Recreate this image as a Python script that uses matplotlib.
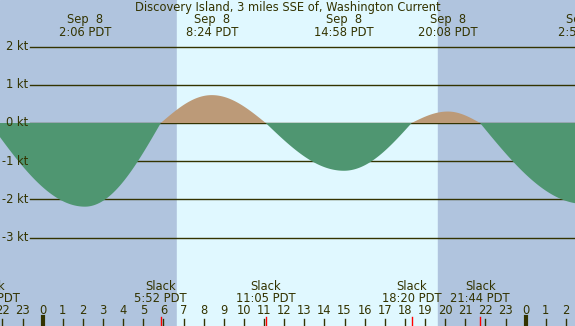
import matplotlib
matplotlib.use('Agg')
import matplotlib.pyplot as plt
import numpy as np

# current events (hours from midnight Sep 8, PDT), speed in knots
event_hours = [-2.633, 2.1, 5.867, 8.4, 11.083, 14.967, 18.333, 20.133, 21.733, 26.917]
event_speeds = [0.0, -2.19, 0.0, 0.73, 0.0, -1.25, 0.0, 0.30, 0.0, -2.12]
max_labels = ['2:06 PDT', '8:24 PDT', '14:58 PDT', '20:08 PDT', '2:55 PDT']
slack_labels = ['21:22 PDT', '5:52 PDT', '11:05 PDT', '18:20 PDT', '21:44 PDT']
sunrise = 6.66
sunset = 19.64
kt_levels = [2, 1, 0, -1, -2, -3]
hour_ticks = list(range(-2, 27))

W, H = 575, 326
TXT = '#333300'
FS = 8.3
x0_px, px_per_hr = 42.7, 20.125
y0_px, px_per_kt = 123.0, 38.2

def curve(t):
    out = np.zeros_like(t)
    for i in range(len(event_hours) - 1):
        a, b = event_hours[i], event_hours[i + 1]
        va, vb = event_speeds[i], event_speeds[i + 1]
        m = (t >= a) & (t <= b)
        f = (t[m] - a) / (b - a)
        if va == 0:
            out[m] = vb * np.sin(np.pi / 2 * f)
        else:
            out[m] = va * np.cos(np.pi / 2 * f)
    return out

fig = plt.figure(figsize=(W / 100, H / 100), dpi=100)
ax = fig.add_axes([0, 0, 1, 1])
xmin = -x0_px / px_per_hr
xmax = (W - x0_px) / px_per_hr
ax.set_xlim(xmin, xmax)
ax.set_ylim((y0_px - H) / px_per_kt, y0_px / px_per_kt)
ax.axis('off')

def fy(ypx):
    return 1 - ypx / H

tr = ax.get_xaxis_transform()

ax.axvspan(xmin, sunrise, color='#b0c4de', zorder=0)
ax.axvspan(sunrise, sunset, color='#e0f8ff', zorder=0)
ax.axvspan(sunset, xmax, color='#b0c4de', zorder=0)

gx = (30 - x0_px) / px_per_hr
for k in kt_levels:
    ax.plot([gx, xmax], [k, k], color=TXT, lw=1.0, zorder=1)
    ax.text(gx - 0.08, k, '%d kt' % k, ha='right', va='center', fontsize=FS, color=TXT)

t = np.linspace(xmin, xmax, 2000)
v = curve(t)
ax.fill_between(t, 0, v, where=v <= 0, color='#4f9671', lw=0, zorder=2, interpolate=True)
ax.fill_between(t, 0, v, where=v >= 0, color='#bc9a78', lw=0, zorder=2, interpolate=True)

ax.text((xmin + xmax) / 2, fy(7), 'Discovery Island, 3 miles SSE of, Washington Current',
        transform=tr, ha='center', va='center', fontsize=FS, color=TXT)

max_hours = [h for h, s in zip(event_hours, event_speeds) if s != 0]
slack_hours = [h for h, s in zip(event_hours, event_speeds) if s == 0]
for h, lab in zip(max_hours, max_labels):
    ax.text(h, fy(19), 'Sep  8', transform=tr, ha='center', va='center', fontsize=FS, color=TXT)
    ax.text(h, fy(32), lab, transform=tr, ha='center', va='center', fontsize=FS, color=TXT)
for h, lab in zip(slack_hours, slack_labels):
    ax.text(h, fy(287), 'Slack', transform=tr, ha='center', va='center', fontsize=FS, color=TXT)
    ax.text(h, fy(299), lab, transform=tr, ha='center', va='center', fontsize=FS, color=TXT)
    ax.plot([h, h], [fy(317), fy(326)], transform=tr, color='red', lw=1.0, zorder=3)

for h in hour_ticks:
    ax.text(h, fy(311), str(h % 24), transform=tr, ha='center', va='center', fontsize=FS, color=TXT)
    if h % 24 == 0:
        ax.plot([h, h], [fy(317), fy(326)], transform=tr, color=TXT, lw=3.0, zorder=3)
    else:
        ax.plot([h, h], [fy(319), fy(326)], transform=tr, color=TXT, lw=1.0, zorder=3)

fig.savefig('out.png', dpi=100)
